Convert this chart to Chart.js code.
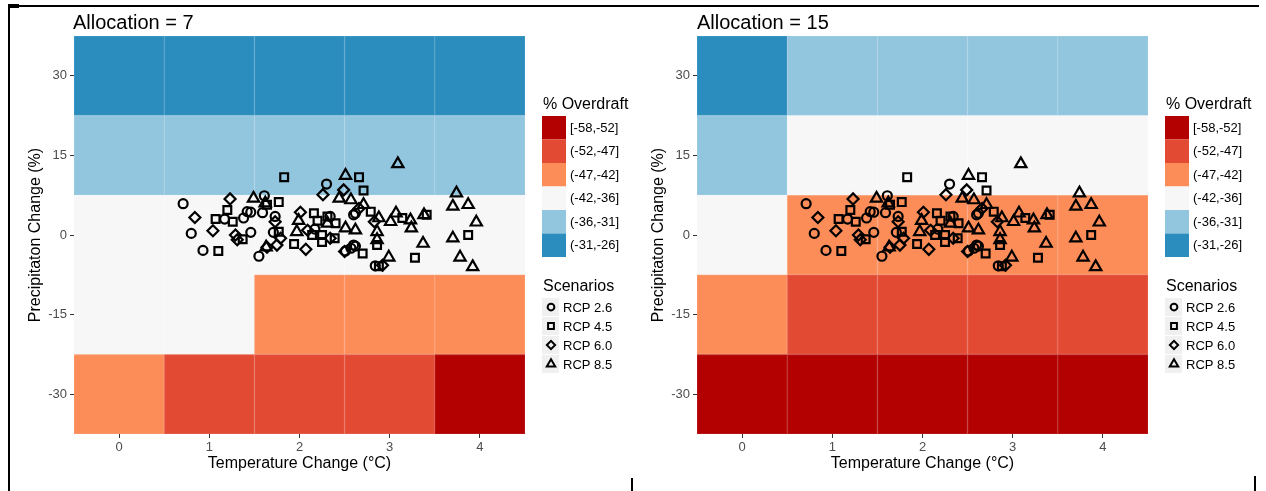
<!DOCTYPE html>
<html>
<head>
<meta charset="utf-8">
<script src="https://cdn.jsdelivr.net/npm/chart.js@4.4.1/dist/chart.umd.min.js"></script>
<style>
  body { margin: 0; background: #fff; font-family: 'Liberation Sans', Arial, sans-serif; }
  #wrap { position: relative; width: 1266px; height: 491px; overflow: hidden; }
  canvas { position: absolute; top: 0; }
  .title { position: absolute; top: 11px; font-size: 20px; line-height: 22px; color: #000; }
  .line { position: absolute; background: #000; }
</style>
</head>
<body>
<div id="wrap">
  <canvas id="alloc7" width="660" height="491" style="left:0"></canvas>
  <canvas id="alloc15" width="643" height="491" style="left:623px"></canvas>
  <div class="title" style="left:73px">Allocation = 7</div>
  <div class="title" style="left:697px">Allocation = 15</div>
  <div class="line" style="left:8px;top:5px;width:1251px;height:2px"></div>
  <div class="line" style="left:8px;top:5px;width:2px;height:486px"></div>
  <div class="line" style="left:8px;top:4px;width:11px;height:4px"></div>
  <div class="line" style="left:631px;top:478px;width:2px;height:13px"></div>
  <div class="line" style="left:1254px;top:476px;width:2px;height:15px"></div>
</div>
<script>
const tempTicks = [0, 1, 2, 3, 4];
const precipTicks = [-30, -15, 0, 15, 30];
// tile rows, top to bottom
const precipRows = [30, 15, 0, -15, -30];

const overdraftLabels = ['[-58,-52]', '(-52,-47]', '(-47,-42]', '(-42,-36]', '(-36,-31]', '(-31,-26]'];
const overdraftColors = ['#B30000', '#E34A33', '#FC8D59', '#F7F7F7', '#92C5DE', '#2B8CBE'];

// overdraft class per tile (index into overdraftLabels), rows = precipRows, cols = tempTicks
const alloc7Classes = [
  [5, 5, 5, 5, 5],
  [4, 4, 4, 4, 4],
  [3, 3, 3, 3, 3],
  [3, 3, 2, 2, 2],
  [2, 1, 1, 1, 0]
];
const alloc15Classes = [
  [5, 4, 4, 4, 4],
  [4, 3, 3, 3, 3],
  [3, 2, 2, 2, 2],
  [2, 1, 1, 1, 1],
  [0, 0, 0, 0, 0]
];

const scenarioLabels = ['RCP 2.6', 'RCP 4.5', 'RCP 6.0', 'RCP 8.5'];
const scenarioStyles = ['circle', 'rect', 'rectRot', 'triangle'];
const scenarioRadius = [4.5, 5.5, 5.5, 6.5];

// [temperature change, precipitation change]
const rcp26 = [
  [0.71, 5.9], [0.80, 0.3], [0.93, -2.9], [1.17, 3.0], [1.38, 3.2], [1.46, 0.5],
  [1.42, 4.4], [1.46, 4.3], [1.55, -4.0], [1.61, 7.4], [1.59, 4.2], [1.71, 0.5],
  [1.73, 3.5], [2.17, 1.1], [2.30, 9.6], [2.34, 3.5], [2.51, -3.0], [2.57, -2.5],
  [2.62, -2.1], [2.60, 3.8], [2.62, 4.1], [2.60, -1.9], [2.84, -5.8]
];
const rcp45 = [
  [1.83, 10.9], [2.66, 10.9], [2.71, 8.4], [1.10, -3.0], [1.07, 3.0], [1.20, 4.7],
  [1.26, 2.5], [1.37, -0.8], [1.64, 5.7], [1.77, 6.2], [1.77, 0.6], [1.94, -1.7],
  [2.16, 4.1], [2.20, 2.7], [2.14, 0.0], [2.25, -1.3], [2.25, 0.0], [2.31, 3.5],
  [2.40, 2.2], [2.39, -0.6], [2.70, -3.5], [2.79, 4.4], [2.86, -1.9], [2.88, -5.9],
  [3.14, 3.2], [3.28, -4.3], [3.41, 3.8], [3.87, 0.0]
];
const rcp60 = [
  [0.84, 3.3], [1.04, 0.8], [1.23, 6.8], [1.29, 0.0], [1.31, -0.9], [1.73, 2.5],
  [1.75, -1.9], [1.64, -2.3], [1.79, -0.6], [2.01, 4.3], [2.07, -2.7], [2.09, 0.9],
  [2.26, 7.6], [2.34, -0.6], [2.49, 8.5], [2.50, -3.1], [2.66, 5.0], [2.83, 2.5],
  [2.92, -5.7]
];
const rcp85 = [
  [1.49, 6.9], [1.62, 6.0], [1.63, -2.3], [1.99, 2.7], [1.97, 0.6], [2.31, 2.2],
  [2.44, 6.9], [2.51, 11.2], [2.57, 6.6], [2.51, 1.3], [2.62, 0.9], [2.71, 5.7],
  [2.86, 0.6], [2.86, -0.9], [2.88, 3.2], [2.99, -4.2], [3.01, 2.5], [3.07, 4.1],
  [3.09, 13.4], [3.23, 2.8], [3.24, 1.3], [3.37, -1.6], [3.38, 3.8], [3.74, 7.9],
  [3.70, 5.4], [3.87, 5.7], [3.96, 2.4], [3.70, -0.6], [3.78, -4.2], [3.92, -6.0]
];
const scenarioData = [rcp26, rcp45, rcp60, rcp85];

const FONT = "'Liberation Sans', Arial, sans-serif";

function symbolPath(ctx, style, x, y, r) {
  ctx.beginPath();
  if (style === 'circle') {
    ctx.arc(x, y, r, 0, Math.PI * 2);
  } else if (style === 'rect') {
    const s = r * Math.SQRT1_2;
    ctx.rect(x - s, y - s, 2 * s, 2 * s);
  } else if (style === 'rectRot') {
    ctx.moveTo(x - r, y); ctx.lineTo(x, y - r); ctx.lineTo(x + r, y); ctx.lineTo(x, y + r);
    ctx.closePath();
  } else {
    const a = Math.PI * 2 / 3;
    ctx.moveTo(x, y - r);
    ctx.lineTo(x + Math.sin(a) * r, y - Math.cos(a) * r);
    ctx.lineTo(x + Math.sin(2 * a) * r, y - Math.cos(2 * a) * r);
    ctx.closePath();
  }
}

// heatmap tiles under the points
const tilePlugin = {
  id: 'tiles',
  beforeDatasetsDraw(chart, args, opts) {
    const { ctx, scales: { x, y } } = chart;
    ctx.save();
    opts.classes.forEach((row, r) => {
      row.forEach((cls, c) => {
        const x0 = x.getPixelForValue(tempTicks[c] - 0.5);
        const x1 = x.getPixelForValue(tempTicks[c] + 0.5);
        const y0 = y.getPixelForValue(precipRows[r] + 7.5);
        const y1 = y.getPixelForValue(precipRows[r] - 7.5);
        ctx.fillStyle = overdraftColors[cls];
        ctx.fillRect(x0, y0, x1 - x0, y1 - y0);
        ctx.strokeStyle = 'rgba(255,255,255,0.08)';
        ctx.lineWidth = 1;
        ctx.strokeRect(x0 + 0.5, y0 + 0.5, x1 - x0 - 1, y1 - y0 - 1);
      });
    });
    ctx.restore();
  }
};

// two-part legend to the right of the panel
const sideLegend = {
  id: 'sideLegend',
  afterDraw(chart) {
    const { ctx, chartArea } = chart;
    const lx = chartArea.right + 18;
    ctx.save();
    ctx.textBaseline = 'middle';
    ctx.fillStyle = '#000';
    ctx.font = '16px ' + FONT;
    ctx.fillText('% Overdraft', lx, 105);
    ctx.font = '13px ' + FONT;
    overdraftLabels.forEach((lab, i) => {
      const top = 116 + i * 23.5;
      ctx.fillStyle = overdraftColors[i];
      ctx.fillRect(lx - 1, top, 24, 23.5);
      ctx.fillStyle = '#000';
      ctx.fillText(lab, lx + 27, top + 12);
    });
    ctx.font = '16px ' + FONT;
    ctx.fillText('Scenarios', lx, 287);
    ctx.font = '13px ' + FONT;
    scenarioLabels.forEach((lab, i) => {
      const cy = 307 + i * 19;
      ctx.fillStyle = '#F0F0F0';
      ctx.fillRect(lx - 1, cy - 9, 17, 18);
      ctx.strokeStyle = '#000';
      ctx.lineWidth = 2;
      symbolPath(ctx, scenarioStyles[i], lx + 8, cy, scenarioRadius[i] * 0.75);
      ctx.stroke();
      ctx.fillStyle = '#000';
      ctx.fillText(lab, lx + 20, cy + 1);
    });
    ctx.restore();
  }
};

function buildPanel(id, classes, rightPad) {
  new Chart(document.getElementById(id), {
    type: 'scatter',
    data: {
      datasets: scenarioData.map((pts, i) => ({
        label: scenarioLabels[i],
        data: pts.map(p => ({ x: p[0], y: p[1] })),
        pointStyle: scenarioStyles[i],
        pointRadius: scenarioRadius[i],
        pointBorderWidth: 2.2,
        pointBorderColor: '#000',
        pointBackgroundColor: 'rgba(0,0,0,0)'
      }))
    },
    options: {
      responsive: false,
      animation: false,
      devicePixelRatio: 1,
      layout: { padding: { top: 36, right: rightPad, bottom: 0, left: 0 } },
      plugins: {
        legend: { display: false },
        tooltip: { enabled: false },
        tiles: { classes: classes }
      },
      scales: {
        x: {
          type: 'linear',
          min: -0.5, max: 4.5,
          afterBuildTicks: s => { s.ticks = tempTicks.map(v => ({ value: v })); },
          afterFit: s => { s.height = 57; },
          border: { display: false },
          grid: { drawOnChartArea: false, tickLength: 4, color: '#333' },
          ticks: { color: '#4D4D4D', font: { family: FONT, size: 13 }, padding: 2 },
          title: {
            display: true, text: 'Temperature Change (°C)', color: '#000',
            font: { family: FONT, size: 16 }, padding: { top: 0, bottom: 18 }
          }
        },
        y: {
          type: 'linear',
          min: -37.5, max: 37.5,
          afterBuildTicks: s => { s.ticks = precipTicks.map(v => ({ value: v })); },
          afterFit: s => { s.width = 74; },
          border: { display: false },
          grid: { drawOnChartArea: false, tickLength: 4, color: '#333' },
          ticks: { color: '#4D4D4D', font: { family: FONT, size: 13 }, padding: 3 },
          title: {
            display: true, text: 'Precipitaton Change (%)', color: '#000',
            font: { family: FONT, size: 16 }, padding: { top: 26, bottom: 0 }
          }
        }
      }
    },
    plugins: [tilePlugin, sideLegend]
  });
}

buildPanel('alloc7', alloc7Classes, 135);
buildPanel('alloc15', alloc15Classes, 118);
</script>
</body>
</html>
